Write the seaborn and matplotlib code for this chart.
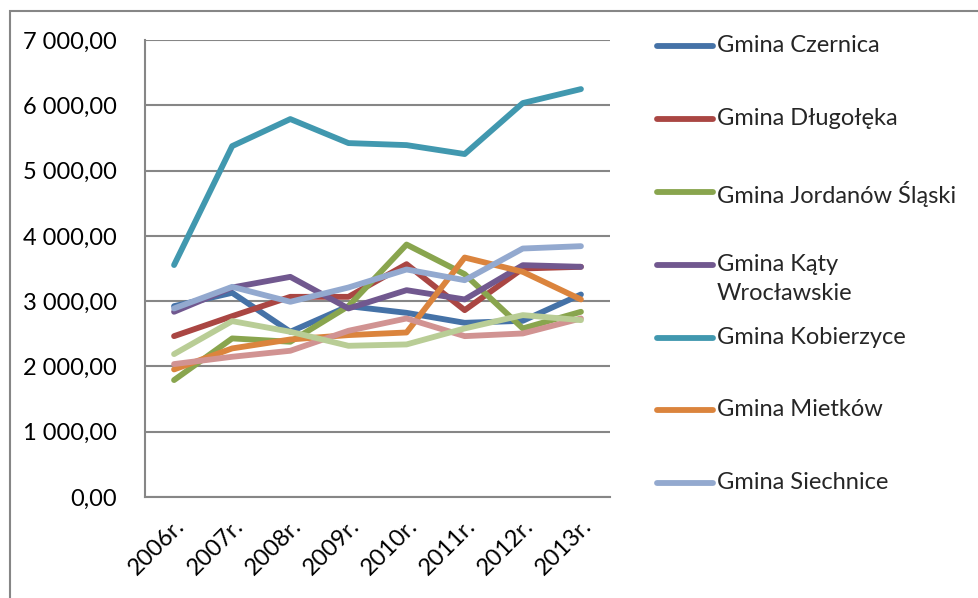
import matplotlib
matplotlib.use("Agg")
import matplotlib.pyplot as plt
import seaborn as sns
import pandas as pd
from matplotlib.lines import Line2D
from matplotlib.patches import Rectangle
from matplotlib.ticker import FuncFormatter

years = ["2006r.", "2007r.", "2008r.", "2009r.", "2010r.", "2011r.", "2012r.", "2013r."]

czernica = [2923, 3128, 2531, 2923, 2821, 2668, 2699, 3102]
dlugoleka = [2464, 2770, 3066, 3066, 3566, 2862, 3500, 3526]
jordanow = [1791, 2429, 2378, 2923, 3867, 3413, 2582, 2837]
katy = [2837, 3209, 3372, 2888, 3168, 3026, 3551, 3526]
kobierzyce = [3553, 5375, 5789, 5421, 5390, 5253, 6034, 6248]
mietkow = [1954, 2276, 2413, 2480, 2520, 3668, 3449, 3026]
siechnice = [2888, 3219, 2990, 3209, 3485, 3321, 3806, 3842]
sobotka = [2036, 2148, 2240, 2546, 2735, 2464, 2505, 2735]
zorawina = [2189, 2694, 2531, 2316, 2337, 2582, 2786, 2709]

names = ["Gmina Czernica", "Gmina Długołęka", "Gmina Jordanów Śląski",
         "Gmina Kąty Wrocławskie", "Gmina Kobierzyce", "Gmina Mietków",
         "Gmina Siechnice", "Gmina Sobótka", "Gmina Żórawina"]
legend_labels = ["Gmina Czernica", "Gmina Długołęka", "Gmina Jordanów Śląski",
                 "Gmina Kąty\nWrocławskie", "Gmina Kobierzyce", "Gmina Mietków",
                 "Gmina Siechnice"]
series = [czernica, dlugoleka, jordanow, katy, kobierzyce, mietkow, siechnice, sobotka, zorawina]
colors = ["#4572A7", "#AA4643", "#89A54E", "#71588F", "#4198AF", "#DB843D",
          "#93A9CF", "#D19392", "#B9CD96"]

rows = []
for n, vals in zip(names, series):
    for i, v in enumerate(vals):
        rows.append({"Rok": i, "Gmina": n, "Wartość": v})
df = pd.DataFrame(rows)

sns.set_style("white")
plt.rcParams["font.family"] = ["Lato", "DejaVu Sans"]

FS = 17
W, H = 979, 598
fig = plt.figure(figsize=(W / 100, H / 100), dpi=100)
ax = fig.add_axes([145 / W, 1 - 497 / H, (610 - 145) / W, (497 - 40) / H])

sns.lineplot(data=df, x="Rok", y="Wartość", hue="Gmina", hue_order=names,
             palette=colors, linewidth=4.2, ax=ax, legend=False,
             solid_capstyle="round", solid_joinstyle="round")

ax.set_xlim(-0.5, len(years) - 0.5)
ax.set_ylim(0, 7000)
ax.set_yticks(range(0, 7001, 1000))
ax.yaxis.set_major_formatter(FuncFormatter(
    lambda v, p: f"{v:,.2f}".replace(",", " ").replace(".", ",")))
ax.set_xticks(range(len(years)))
ax.set_xticklabels(years, rotation=45, ha="right", rotation_mode="anchor")
ax.set_xticks([i - 0.5 for i in range(len(years) + 1)], minor=True)
ax.tick_params(axis="x", which="major", length=0, pad=13, labelsize=FS, colors="black")
ax.tick_params(axis="x", which="minor", length=7, width=1.5, color="#868686", direction="out")
ax.tick_params(axis="y", length=7, width=1.5, color="#868686", direction="out",
               labelsize=FS, pad=13, labelcolor="black")
ax.set_xlabel("")
ax.set_ylabel("")
ax.grid(axis="y", color="#868686", linewidth=1.5)
ax.grid(axis="x", visible=False)
ax.set_axisbelow(True)
for s in ["top", "right"]:
    ax.spines[s].set_visible(False)
for s in ["left", "bottom"]:
    ax.spines[s].set_color("#868686")
    ax.spines[s].set_linewidth(1.5)

# chart border
fig.patches.append(Rectangle((10 / W, -0.1), 1.2, 1 - 11 / H + 0.1,
                             transform=fig.transFigure, fill=False,
                             edgecolor="#868686", linewidth=1.5))

# legend (first seven series)
ys = [46, 119, 192, 265, 338, 410, 483]
for lab, c, yy in zip(legend_labels, colors, ys):
    yf = 1 - yy / H
    fig.add_artist(Line2D([657 / W, 713 / W], [yf, yf], color=c, linewidth=4.2,
                          solid_capstyle="round", transform=fig.transFigure))
    fig.text(717 / W, 1 - (yy - 11) / H, lab, fontsize=FS, va="top", ha="left",
             linespacing=1.45)

fig.savefig("out.png", dpi=100)
